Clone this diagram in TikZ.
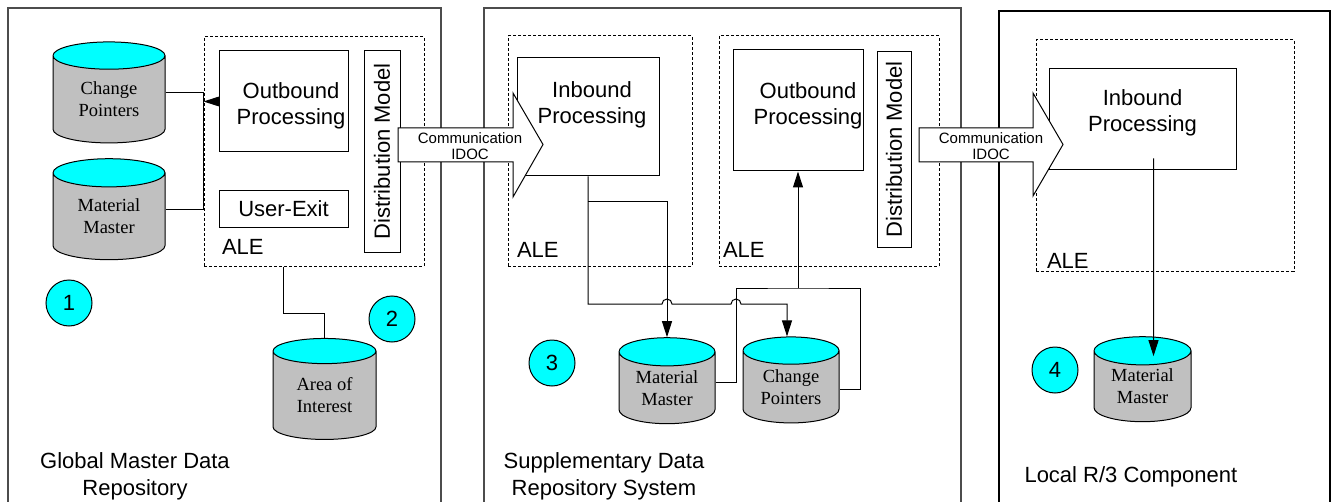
\documentclass[tikz,border=0pt]{standalone}
\usepackage{fontspec}
\setmainfont{Liberation Sans}
\newfontfamily\serifdb{Liberation Serif}
\usetikzlibrary{shapes.geometric,arrows.meta,positioning}
\definecolor{dbtop}{RGB}{0,255,255}
\definecolor{dbbody}{RGB}{192,192,192}

\begin{document}
\begin{tikzpicture}[x=0.5pt,y=-0.5pt,line width=0.5pt,
    >={Triangle[length=8pt,width=5pt]},
    panel/.style={draw=black!70,line width=0.8pt},
    alebox/.style={draw,dash pattern=on 1.5pt off 1pt,rectangle,inner sep=0},
    procbox/.style={draw,fill=white,rectangle,inner sep=0},
    proctext/.style={font=\fontsize{11}{13}\selectfont,align=center,inner sep=0},
    distbox/.style={draw,fill=white,rectangle,rotate=90,inner sep=0,font=\fontsize{11}{13}\selectfont},
    alelbl/.style={font=\fontsize{11}{13}\selectfont,inner sep=0,anchor=base west},
    db/.style={cylinder,shape border rotate=90,draw,aspect=0.45,
      cylinder uses custom fill,cylinder body fill=dbbody,cylinder end fill=dbtop,
      inner sep=0,align=center,font=\serifdb\fontsize{9.25}{11}\selectfont},
    numcirc/.style={circle,draw,fill=dbtop,minimum size=23pt,inner sep=0,font=\fontsize{11}{13}\selectfont},
    commarrow/.style={draw,fill=white},
    commtext/.style={font=\fontsize{7.5}{8}\selectfont,align=center,inner sep=0},
    sysname/.style={font=\fontsize{11}{13.5}\selectfont,align=center,inner sep=0}]

  \useasboundingbox (0,0) rectangle (1336,502);

  % the three systems
  \draw[panel] (8,502) -- (8,8) -- (441,8) -- (441,502);
  \draw[panel] (484,502) -- (484,8) -- (961,8) -- (961,502);
  \draw[panel,draw=black,line width=0.6pt] (999,502) -- (999,11) -- (1330,11) -- (1330,502);

  % global master data repository
  \node[alebox,minimum width=110pt,minimum height=114.5pt] (ale1) at (314,151.5) {};
  \node[procbox,minimum width=64.5pt,minimum height=50.5pt] (out1) at (283.5,101.5) {};
  \node[proctext,below=16pt of out1.north,xshift=3.75pt] (out1txt) {Outbound\\Processing};
  \node[procbox,minimum width=64.5pt,minimum height=18pt,font=\fontsize{11}{13}\selectfont] (ue1) at (283.5,209) {User-Exit};
  \node[distbox,minimum width=100.5pt,minimum height=18pt] (dm1) at (382,151.5) {Distribution Model};
  \node[alelbl] (ale1lbl) at ([xshift=9pt,yshift=6pt]ale1.south west) {ALE};
  \node[db,minimum width=56pt,minimum height=50.5pt] (cp1) at (109,99.5) {Change\\Pointers};
  \node[db,minimum width=56pt,minimum height=50.5pt] (mm1) at (109,216.5) {Material\\Master};
  \node[db,minimum width=51.5pt,minimum height=50.5pt] (aoi) at (324.5,395.5) {Area of\\Interest};
  \node[numcirc] (c1) at (69,303) {1};
  \node[numcirc] (c2) at (392,319) {2};
  \node[sysname] (glbl) at (135,476) {Global Master Data\\Repository};

  \draw ([yshift=3.5pt]cp1.east) -- ([yshift=3.5pt]cp1.east -| ale1.west) |- ([yshift=3.5pt]mm1.east);
  \draw[->] (out1.west) -- (out1.west -| ale1.west);
  \draw ([xshift=-15.5pt]ale1.south) -- ++(0,47) -| (aoi.north);

  % supplementary data repository system
  \node[alebox,minimum width=92pt,minimum height=115pt] (ale2a) at (600,151) {};
  \node[alebox,minimum width=110pt,minimum height=115pt] (ale2b) at (829,151) {};
  \node[procbox,minimum width=71pt,minimum height=59pt] (in2) at (588,117) {};
  \node[proctext,below=12pt of in2.north,xshift=2pt] (in2txt) {Inbound\\Processing};
  \node[procbox,minimum width=65pt,minimum height=60.5pt] (out2) at (798,110.5) {};
  \node[proctext,below=16.5pt of out2.north,xshift=5pt] (out2txt) {Outbound\\Processing};
  \node[distbox,minimum width=97.5pt,minimum height=17pt] (dm2) at (894,149.5) {Distribution Model};
  \node[alelbl] (ale2albl) at ([xshift=4.5pt,yshift=4.5pt]ale2a.south west) {ALE};
  \node[alelbl] (ale2blbl) at ([xshift=2pt,yshift=4.5pt]ale2b.south west) {ALE};
  \node[db,minimum width=48pt,minimum height=43pt] (mm2) at (667,388) {Material\\Master};
  \node[db,minimum width=48pt,minimum height=43pt] (cp2) at (791,387) {Change\\Pointers};
  \node[numcirc] (c3) at (552,363) {3};
  \node[sysname] (slbl) at (604,476) {Supplementary Data\\Repository System};
  \coordinate (junc) at (798,288);

  % local R/3 component
  \node[alebox,minimum width=129pt,minimum height=115.5pt] (ale3) at (1165,155.5) {};
  \node[procbox,minimum width=93.5pt,minimum height=50.5pt] (in3) at (1142.5,119.5) {};
  \node[proctext,below=10.5pt of in3.north] (in3txt) {Inbound\\Processing};
  \node[alelbl] (ale3lbl) at ([xshift=5.5pt,yshift=1.5pt]ale3.south west) {ALE};
  \node[db,minimum width=48.5pt,minimum height=42.5pt] (mm3) at (1142.5,386.5) {Material\\Master};
  \node[numcirc] (c4) at (1055,370) {4};
  \node[font=\fontsize{11}{13}\selectfont,inner sep=0,anchor=base west] (llbl) at (1024,482) {Local R/3 Component};

  % IDOC transfer
  \draw[commarrow] (398,128) -- (513,128) -- (513,93) -- (543,144.5) -- (513,197) -- (513,162) -- (398,162) -- cycle;
  \node[commtext] (idoc1) at (470,146) {Communication\\IDOC};
  \draw[commarrow] (919,128) -- (1033,128) -- (1033,93) -- (1063,144.5) -- (1033,196) -- (1033,162) -- (919,162) -- cycle;
  \node[commtext] (idoc2) at (991,146) {Communication\\IDOC};

  \draw[->] (in2.south) |- (662,304) arc[start angle=180,end angle=360,radius=5]
    -- (731,304) arc[start angle=180,end angle=360,radius=5] -| ([xshift=-2pt]cp2.north);
  \draw[->] ([yshift=-12.5pt]in2.south) -| (mm2.north);
  \draw ([yshift=3pt]mm2.east) -- ++(21,0) |- (junc) -- ++(62,0) |- ([yshift=-1pt]cp2.east);
  \draw[->] (junc) -- (out2.south);
  \draw[->] ([xshift=5.5pt,yshift=6pt]in3.south) -- ([xshift=5.5pt,yshift=-10pt]mm3.north);
\end{tikzpicture}
\end{document}
